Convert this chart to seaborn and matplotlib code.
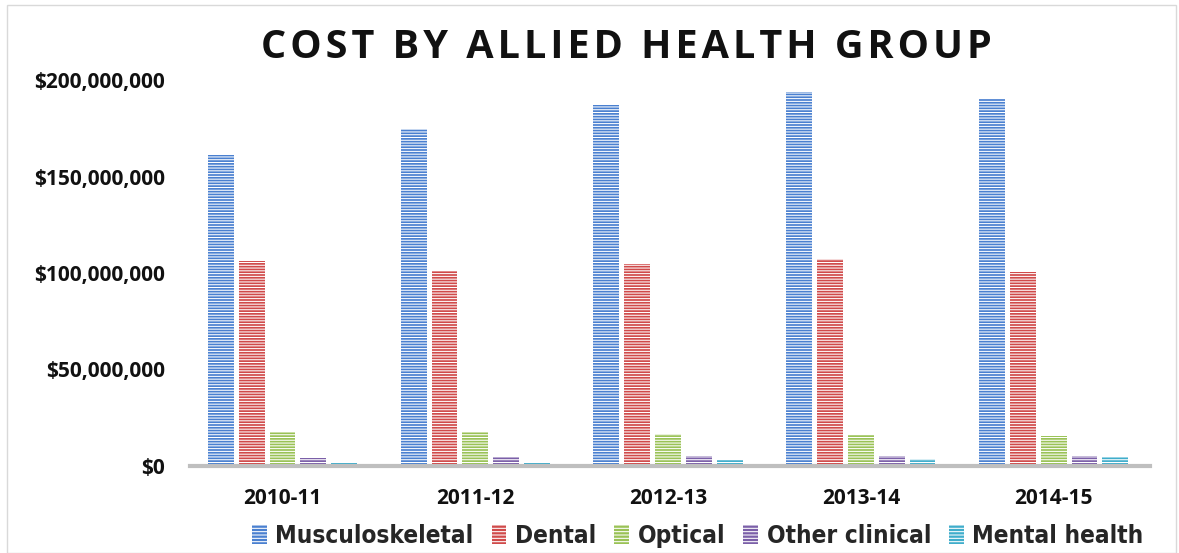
import matplotlib
matplotlib.use("Agg")
import matplotlib.pyplot as plt
from matplotlib import font_manager
from matplotlib.font_manager import FontProperties
from matplotlib.patches import Patch, Rectangle
from matplotlib.ticker import FuncFormatter
import seaborn as sns
import pandas as pd

years = ["2010-11", "2011-12", "2012-13", "2013-14", "2014-15"]
groups = ["Musculoskeletal", "Dental", "Optical", "Other clinical", "Mental health"]
musculoskeletal = [161e6, 174.5e6, 187e6, 194e6, 190e6]
dental = [106e6, 101e6, 104.5e6, 107e6, 100.5e6]
optical = [17.5e6, 17.5e6, 16.5e6, 16e6, 15.5e6]
other_clinical = [4e6, 4.5e6, 5e6, 5.3e6, 5.3e6]
mental_health = [1.5e6, 2e6, 3e6, 3.6e6, 4.7e6]
colors = ["#4A80D0", "#D04A4A", "#9AC256", "#7B5FA8", "#40ADCB"]

series = [musculoskeletal, dental, optical, other_clinical, mental_health]
rows = []
for g, vals in zip(groups, series):
    for y, v in zip(years, vals):
        rows.append({"year": y, "group": g, "cost": v})
df = pd.DataFrame(rows)

sns.set_theme(style="white")
names = {f.name for f in font_manager.fontManager.ttflist}
main_font = "Open Sans" if "Open Sans" in names else "DejaVu Sans"
plt.rcParams["font.family"] = [main_font, "DejaVu Sans"]
plt.rcParams["hatch.linewidth"] = 0.75

# condensed bold font for the legend, if one is installed
cond_path = None
for f in font_manager.fontManager.ttflist:
    fn = f.fname.lower()
    if ("narrow" in fn or "condensed" in fn) and "bold" in fn and "oblique" not in fn and "italic" not in fn:
        cond_path = f.fname
        break
if cond_path is not None:
    legend_prop = FontProperties(fname=cond_path, size=17.5)
else:
    legend_prop = FontProperties(family=main_font, weight="bold", size=16)

fig = plt.figure(figsize=(11.79, 5.53), dpi=100)
ax = fig.add_axes([190 / 1179, 1 - 466 / 553, 960 / 1179, 386 / 553])

sns.barplot(data=df, x="year", y="cost", hue="group", hue_order=groups,
            order=years, palette=colors, width=0.8, gap=0.16, legend=False,
            ax=ax, saturation=1)

for p in ax.patches:
    p.set_edgecolor("white")
    p.set_linewidth(0)
    p.set_hatch("------")

ax.set_xlim(-0.48, 4.5)
ax.set_ylim(0, 200e6)
ax.set_yticks([0, 50e6, 100e6, 150e6, 200e6])
ax.yaxis.set_major_formatter(FuncFormatter(lambda v, pos: f"${v:,.0f}"))
ax.set_xlabel("")
ax.set_ylabel("")
for s in ["top", "right", "left"]:
    ax.spines[s].set_visible(False)
ax.spines["bottom"].set_color("#BFBFBF")
ax.spines["bottom"].set_linewidth(3)
ax.tick_params(axis="both", length=0)
ax.tick_params(axis="y", pad=18, labelsize=15)
ax.tick_params(axis="x", pad=16, labelsize=15)
for lab in ax.get_xticklabels() + ax.get_yticklabels():
    lab.set_fontweight("bold")
    lab.set_color("#111111")

title = "COST BY ALLIED HEALTH GROUP"
spaced = "\u200a".join(title)
fig.text(0.531, 1 - 48 / 553, spaced, ha="center", va="center",
         fontsize=28.5, fontweight="bold", color="#111111",
         family=[main_font, "DejaVu Sans"])

handles = [Patch(facecolor=c, edgecolor="white", linewidth=0, hatch="-----")
           for c in colors]
leg = fig.legend(handles, groups, loc="center", bbox_to_anchor=(0.592, 0.031),
                 ncol=5, frameon=False, handlelength=0.6, handleheight=0.8,
                 handletextpad=0.35, columnspacing=0.75, prop=legend_prop)

fig.patches.append(Rectangle((7 / 1179, 0), 1 - 7 / 1179 - 3 / 1179, 1 - 5 / 553,
                             transform=fig.transFigure, fill=False,
                             edgecolor="#D9D9D9", linewidth=1))

fig.savefig("out.png", dpi=100)
